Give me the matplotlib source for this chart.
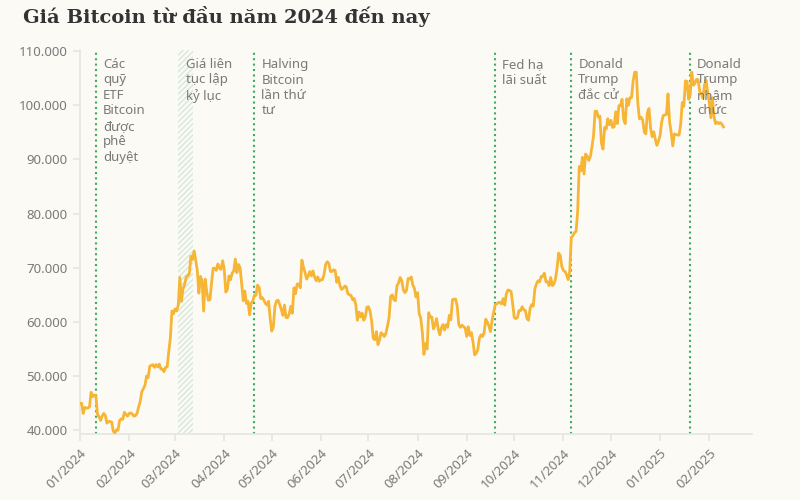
import matplotlib
matplotlib.use("Agg")
import matplotlib.pyplot as plt
import matplotlib.dates as mdates
import matplotlib.ticker as mticker
import pandas as pd

# daily closing price (USD), one list per month
jan24 = [44900, 45000, 43100, 44200, 44100, 44100, 44300, 47000, 46200, 46500,
         46400, 43000, 42500, 41800, 42600, 43100, 42700, 41300, 41600, 41600,
         41500, 39800, 39500, 40100, 40000, 41800, 42100, 42000, 43300, 42900, 42600]
feb24 = [43100, 43200, 43000, 42600, 42700, 43100, 44300, 45300, 47100, 47700,
         48300, 50000, 49700, 51800, 52000, 52100, 51600, 52100, 51700, 52200,
         51300, 51300, 50800, 51600, 51700, 54500, 57000, 62000, 61500]
mar24 = [62400, 62000, 63100, 68200, 63800, 66100, 66900, 68300, 68500, 68900,
         72100, 71500, 73100, 71400, 69500, 65300, 68400, 67600, 62000, 67900,
         65500, 64000, 64100, 67200, 69900, 69900, 69500, 70700, 69900, 69700, 71300]
apr24 = [69700, 65500, 66000, 68500, 67800, 69000, 69400, 71600, 69100, 70600,
         70000, 67100, 63900, 65700, 63400, 63800, 61300, 63500, 63800, 64900,
         64900, 66800, 66400, 64300, 64500, 64000, 63400, 63100, 63800, 60600]
may24 = [58300, 59100, 62900, 63900, 64000, 63200, 62300, 61200, 63100, 60800,
         60800, 61500, 62900, 61600, 66300, 65200, 67000, 67000, 66300, 71400,
         70100, 69100, 67900, 68500, 69300, 68500, 69400, 68300, 67600, 68300, 67500]
jun24 = [67800, 67800, 68800, 70600, 71100, 70800, 69300, 69300, 69600, 69500,
         67300, 68200, 66700, 66000, 66200, 66600, 66500, 65200, 65000, 64900,
         64100, 64300, 63200, 60300, 61800, 60900, 61600, 60300, 60900, 62700]
jul24 = [62800, 62000, 60200, 57000, 56700, 58200, 55800, 56700, 58000, 57700,
         57300, 57900, 59200, 60800, 64700, 65000, 64100, 63900, 66700, 67200,
         68200, 67600, 65900, 65400, 65800, 68000, 67900, 68300, 66800, 66200, 64600]
aug24 = [65400, 61500, 60700, 58100, 54000, 56000, 55000, 61700, 60900, 60900,
         58700, 59400, 60600, 58700, 57600, 58900, 59500, 58500, 59500, 59000,
         61200, 60400, 64100, 64200, 64200, 62900, 59500, 59000, 59400, 59100, 58900]
sep24 = [57300, 59100, 57500, 58000, 56200, 53900, 54200, 54900, 57000, 57600,
         57300, 58100, 60500, 60000, 59200, 58200, 60300, 61800, 63200, 63300,
         63600, 63600, 63300, 64300, 63100, 65200, 65900, 65800, 65600, 63300]
oct24 = [60800, 60600, 60800, 62100, 62100, 62800, 62200, 62100, 60600, 60300,
         62500, 63200, 62900, 66100, 67000, 67600, 67400, 68400, 68400, 69000,
         67400, 67400, 66700, 68200, 66700, 67000, 67900, 69900, 72700, 72300, 70200]
nov24 = [69500, 69300, 68700, 67800, 69400, 75600, 75900, 76500, 76700, 80400,
         88700, 87900, 90400, 87300, 91000, 90600, 89800, 90500, 92300, 94300,
         98900, 98900, 97800, 98000, 93000, 91900, 95900, 95600, 97500, 96400]
dec24 = [97200, 95900, 96000, 98800, 96600, 99900, 99900, 101100, 97400, 96600,
         101200, 100000, 101400, 101400, 104500, 106100, 106100, 100200, 97500, 97800,
         97300, 95100, 94700, 98700, 99400, 95800, 94200, 95100, 93700, 92600, 93400]
jan25 = [94400, 96900, 98100, 98200, 98300, 102100, 96900, 95000, 92500, 94700,
         94600, 94500, 94500, 96500, 100500, 99800, 104500, 104400, 101100, 102000,
         106100, 103700, 104000, 104800, 104700, 102600, 102100, 101300, 103700, 104700, 102400]
feb25 = [100600, 97700, 101400, 97900, 96600, 96900, 96600, 96800, 96500, 96000]

months = [jan24, feb24, mar24, apr24, may24, jun24, jul24, aug24, sep24,
          oct24, nov24, dec24, jan25, feb25]
prices = [p for m in months for p in m]
dates = pd.date_range("2024-01-01", periods=len(prices), freq="D")

# events marked with dotted lines
event_dates = ["2024-01-11", "2024-04-20", "2024-09-19", "2024-11-06", "2025-01-20"]
event_labels = ["Các\nquỹ\nETF\nBitcoin\nđược\nphê\nduyệt",
                "Halving\nBitcoin\nlần thứ\ntư",
                "Fed hạ\nlãi suất",
                "Donald\nTrump\nđắc cử",
                "Donald\nTrump\nnhậm\nchức"]
# period of record highs (hatched band)
band_start, band_end = "2024-03-03", "2024-03-12"
band_label = "Giá liên\ntục lập\nkỷ lục"

bg = "#fcfaf5"
gray = "#7a7a7a"
green = "#3bae5e"

plt.rcParams["font.family"] = ["Noto Sans", "DejaVu Sans"]
plt.rcParams["hatch.linewidth"] = 1.0

fig = plt.figure(figsize=(8, 5), dpi=100, facecolor=bg)
ax = fig.add_axes([0.1, 0.132, 0.84, 0.768])
ax.set_facecolor(bg)

ax.axvspan(pd.Timestamp(band_start), pd.Timestamp(band_end), facecolor="none",
           edgecolor="#d6e8da", hatch="//////", lw=0, zorder=1)
ax.annotate(band_label, xy=(pd.Timestamp(band_start), 1),
            xycoords=("data", "axes fraction"), xytext=(8, -8),
            textcoords="offset pixels", va="top", ha="left",
            fontsize=9.5, color=gray, linespacing=1.25)

for d, lab in zip(event_dates, event_labels):
    t = pd.Timestamp(d)
    ax.axvline(t, color=green, lw=1.5, ls=(0, (1, 1.6)), zorder=2)
    ax.annotate(lab, xy=(t, 1), xycoords=("data", "axes fraction"),
                xytext=(7, -8), textcoords="offset pixels", va="top",
                ha="left", fontsize=9.5, color=gray, linespacing=1.25, zorder=4)

ax.plot(dates, prices, color="#f7b536", lw=2, zorder=3)

ax.set_xlim(pd.Timestamp("2024-01-01"), pd.Timestamp("2025-02-28"))
ax.set_ylim(39300, 110200)
ax.set_yticks(range(40000, 110001, 10000))
ax.yaxis.set_major_formatter(mticker.FuncFormatter(lambda v, p: f"{int(v):,}".replace(",", ".")))
ax.xaxis.set_major_locator(mdates.MonthLocator())
ax.xaxis.set_major_formatter(mdates.DateFormatter("%m/%Y"))
plt.setp(ax.get_xticklabels(), rotation=45, ha="right", rotation_mode="anchor")

for s in ["top", "right"]:
    ax.spines[s].set_visible(False)
for s in ["left", "bottom"]:
    ax.spines[s].set_color("#e4e6e2")
    ax.spines[s].set_linewidth(1.2)
ax.tick_params(axis="both", colors="#e4e6e2", labelcolor=gray, labelsize=9.5,
               length=5, width=1.2, pad=4)

fig.text(0.029, 0.954, "Giá Bitcoin từ đầu năm 2024 đến nay", family="DejaVu Serif",
         fontweight="bold", fontsize=14, color="#333333", va="baseline")

fig.savefig("out.png", dpi=100, facecolor=bg)
